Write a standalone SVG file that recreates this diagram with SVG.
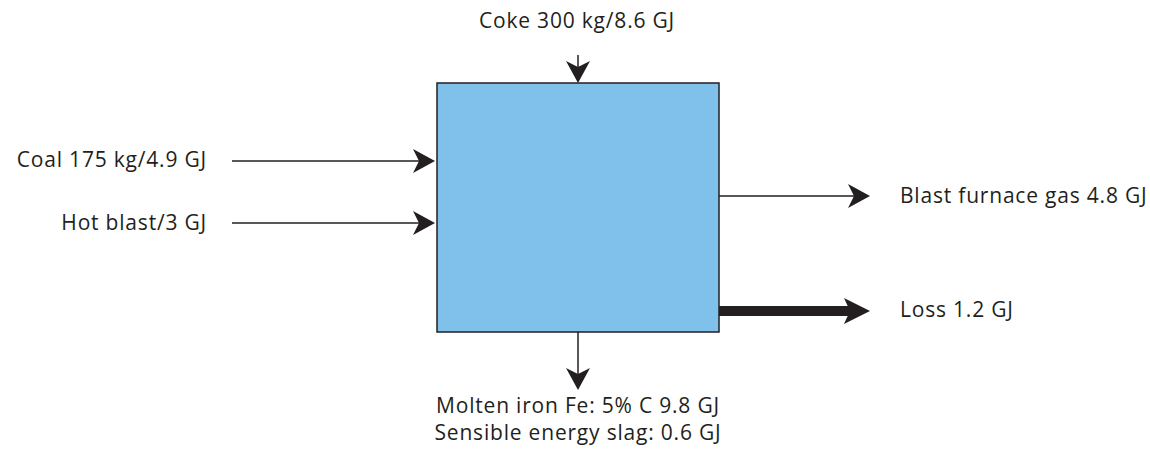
<svg xmlns="http://www.w3.org/2000/svg" width="1150" height="451" viewBox="0 0 1150 451">
<style>
.lbl{font-family:"Open Sans","Liberation Sans",Arial,sans-serif;font-size:21px;letter-spacing:0.8px;fill:#231f20}
.thin{stroke:#231f20;stroke-width:1.5;fill:none}
.thick{stroke:#231f20;stroke-width:10;fill:none}
</style>
<defs>
<marker id="ah" markerUnits="userSpaceOnUse" viewBox="0 0 22 24" refX="6" refY="12" markerWidth="22" markerHeight="24" orient="auto">
<path d="M0,0 L22,12 L0,24 L6,12 Z" fill="#231f20"/>
</marker>
<marker id="ahb" markerUnits="userSpaceOnUse" viewBox="0 0 26 26" refX="6" refY="13" markerWidth="26" markerHeight="26" orient="auto">
<path d="M0,0 L26,13 L0,26 L6,13 Z" fill="#231f20"/>
</marker>
</defs>
<g id="furnace">
<rect x="437" y="83" width="282" height="249" fill="#7fc1ea" stroke="#231f20" stroke-width="1.5"/>
</g>
<g id="connectors">
<line class="thin" x1="578" y1="55" x2="578" y2="67" marker-end="url(#ah)"/>
<line class="thin" x1="232" y1="161" x2="419" y2="161" marker-end="url(#ah)"/>
<line class="thin" x1="232" y1="223" x2="419" y2="223" marker-end="url(#ah)"/>
<line class="thin" x1="719" y1="196" x2="854" y2="196" marker-end="url(#ah)"/>
<line class="thick" x1="719" y1="311" x2="850" y2="311" marker-end="url(#ahb)"/>
<line class="thin" x1="578" y1="332" x2="578" y2="374" marker-end="url(#ah)"/>
</g>
<g id="coke"><text class="lbl" x="577" y="28" text-anchor="middle">Coke 300 kg/8.6 GJ</text></g>
<g id="coal"><text class="lbl" x="207" y="167" text-anchor="end">Coal 175 kg/4.9 GJ</text></g>
<g id="hotblast"><text class="lbl" x="207" y="230" text-anchor="end">Hot blast/3 GJ</text></g>
<g id="bfgas"><text class="lbl" x="900" y="203">Blast furnace gas 4.8 GJ</text></g>
<g id="loss"><text class="lbl" x="900" y="317">Loss 1.2 GJ</text></g>
<g id="iron"><text class="lbl" x="578" y="413" text-anchor="middle">Molten iron Fe: 5% C 9.8 GJ</text></g>
<g id="slag"><text class="lbl" x="578" y="440" text-anchor="middle">Sensible energy slag: 0.6 GJ</text></g>
</svg>
